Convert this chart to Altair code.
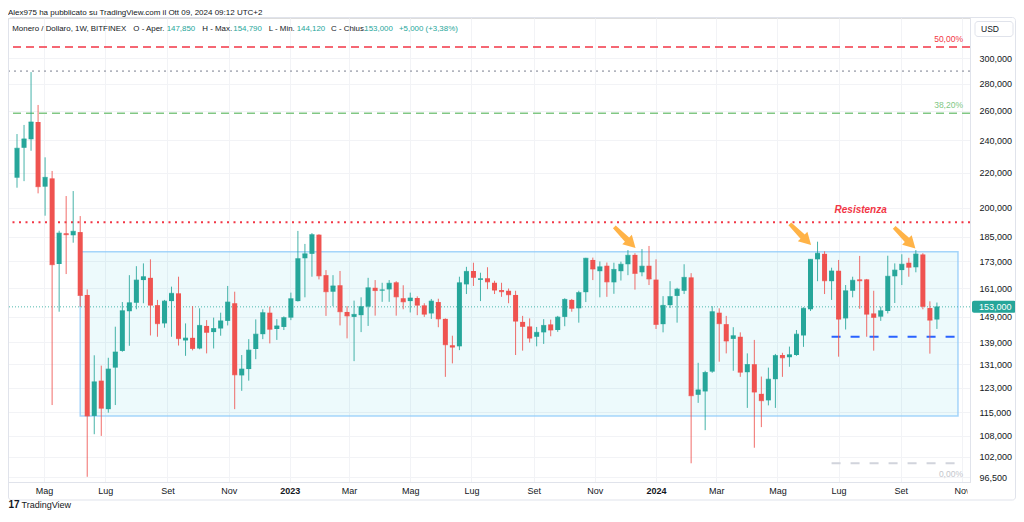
import altair as alt
import pandas as pd

# ---------------- data (XMR/USD weekly, Bitfinex) ----------------
week_start = "2022-04-04"  # Monday of the first fully visible weekly candle

opens = [217.0, 235.3, 240.8, 252.3, 211.8, 216.6, 171.8, 186.7, 185.7, 187.3,
         158.0, 113.9, 125.3, 116.0, 129.8, 135.8, 151.2, 154.7, 164.5, 165.5,
         153.7, 146.3, 155.4, 158.7, 139.7, 140.7, 136.7, 145.3, 142.9, 144.3,
         147.3, 154.5, 127.1, 129.3, 136.5, 142.1, 150.6, 144.1, 144.9, 148.6,
         155.4, 174.5, 176.6, 186.0, 166.7, 159.4, 162.2, 150.9, 148.9, 149.6,
         153.1, 161.1, 159.9, 160.4, 163.5, 156.6, 155.4, 156.7, 153.6, 150.3,
         155.0, 148.1, 137.9, 137.5, 162.6, 168.6, 164.6, 165.3, 163.3, 160.1,
         159.8, 158.0, 146.9, 145.1, 141.1, 142.8, 145.9, 143.7, 148.9, 155.9,
         152.4, 159.2, 173.7, 168.5, 171.0, 163.5, 168.5, 171.7, 176.1, 168.0,
         171.0, 164.7, 146.0, 153.7, 157.6, 159.8, 165.7, 120.6, 121.7, 128.4,
         150.6, 146.0, 140.3, 141.1, 128.2, 131.0, 120.9, 118.8, 125.8, 134.3,
         133.5, 134.3, 141.6, 152.0, 174.0, 176.6, 164.0, 168.7, 148.3, 159.8,
         164.8, 164.8, 150.3, 149.0, 151.3, 166.2, 169.0, 172.4, 170.3, 176.3,
         152.5, 147.85]

highs = [244.2, 250.3, 288.8, 264.2, 229.3, 221.0, 188.0, 206.5, 209.3, 195.6,
         160.4, 134.2, 130.5, 133.3, 145.0, 155.0, 166.7, 170.8, 172.1, 174.0,
         155.9, 155.9, 161.6, 166.0, 146.3, 153.3, 152.4, 147.6, 148.6, 150.6,
         161.9, 159.4, 134.3, 140.2, 147.9, 152.0, 153.1, 148.0, 149.1, 159.0,
         187.9, 181.4, 186.8, 186.2, 169.0, 166.7, 168.6, 153.3, 155.6, 157.0,
         165.5, 164.5, 163.3, 164.5, 164.0, 162.2, 159.0, 157.4, 154.5, 156.3,
         156.4, 148.3, 141.5, 166.0, 170.5, 172.4, 167.8, 170.3, 164.2, 163.3,
         160.8, 159.8, 149.3, 148.3, 144.9, 148.0, 147.8, 149.3, 156.6, 156.3,
         159.8, 174.7, 174.8, 173.0, 172.5, 172.4, 172.9, 178.4, 176.9, 178.9,
         180.4, 174.0, 157.5, 164.0, 161.1, 171.7, 167.6, 131.5, 128.7, 153.3,
         152.4, 149.3, 144.8, 142.8, 134.9, 139.9, 126.7, 129.8, 134.7, 135.1,
         137.4, 143.7, 152.8, 174.1, 182.5, 177.8, 170.1, 173.7, 162.3, 166.0,
         175.6, 165.0, 159.8, 153.1, 175.7, 172.1, 176.4, 174.7, 178.4, 176.9,
         155.3, 154.79]

lows = [211.2, 215.0, 233.4, 208.0, 195.8, 117.3, 151.0, 167.2, 182.0, 153.0,
        96.6, 108.4, 107.9, 114.9, 117.3, 135.5, 137.7, 152.0, 154.5, 141.6,
        141.1, 144.6, 141.1, 137.8, 134.0, 136.0, 136.4, 134.9, 136.7, 141.5,
        145.5, 116.0, 121.9, 125.3, 132.8, 140.2, 138.6, 139.9, 143.7, 147.6,
        155.2, 157.0, 166.0, 164.8, 149.3, 153.3, 145.5, 140.5, 132.1, 142.9,
        145.3, 149.4, 155.1, 155.1, 149.4, 152.0, 150.7, 149.6, 148.9, 148.1,
        144.8, 126.6, 131.3, 136.1, 158.4, 161.9, 155.4, 160.5, 158.4, 157.2,
        154.5, 134.3, 135.9, 138.9, 137.5, 138.4, 141.3, 143.0, 145.2, 151.0,
        146.6, 155.0, 164.5, 157.0, 157.2, 158.5, 164.3, 166.7, 160.3, 166.2,
        162.3, 144.1, 142.8, 152.5, 146.6, 158.4, 100.2, 118.0, 109.6, 128.0,
        131.9, 134.9, 128.7, 126.6, 116.4, 104.5, 110.5, 117.2, 116.4, 126.6,
        130.1, 134.0, 137.3, 151.3, 164.0, 158.4, 155.9, 133.7, 143.9, 157.0,
        152.2, 141.1, 135.9, 147.3, 150.3, 154.6, 162.3, 166.0, 168.0, 152.0,
        134.8, 144.12]

closes = [235.0, 241.0, 252.3, 211.8, 217.2, 171.5, 186.8, 186.0, 187.7, 157.8,
          113.9, 124.9, 116.3, 129.3, 135.4, 151.4, 154.7, 164.5, 166.0, 153.7,
          146.2, 155.4, 158.7, 140.4, 140.6, 136.7, 145.5, 142.8, 144.3, 147.3,
          155.0, 127.3, 129.3, 136.1, 142.1, 150.6, 144.0, 145.3, 148.6, 156.4,
          174.3, 176.6, 186.0, 166.4, 159.4, 161.9, 151.0, 149.3, 149.9, 153.1,
          161.1, 159.9, 160.2, 163.1, 157.2, 155.1, 156.7, 153.7, 150.0, 155.4,
          148.1, 138.1, 137.2, 163.3, 168.4, 165.7, 165.1, 163.7, 160.1, 159.4,
          158.1, 147.2, 145.1, 140.6, 142.8, 145.5, 143.7, 148.8, 156.1, 152.4,
          159.0, 174.5, 169.5, 170.5, 163.7, 169.3, 171.7, 175.9, 167.5, 170.8,
          165.0, 145.9, 153.6, 157.3, 160.5, 165.7, 120.3, 122.2, 128.1, 151.0,
          146.2, 139.5, 141.5, 128.2, 130.9, 121.5, 118.7, 125.8, 134.1, 133.3,
          134.4, 142.1, 152.4, 174.0, 176.9, 164.2, 168.6, 148.0, 159.8, 164.4,
          164.2, 150.0, 148.7, 151.4, 166.2, 169.0, 171.7, 170.3, 176.5, 153.2,
          147.6, 153.0]

# levels drawn on the chart
level_50 = 309.1        # fib 50%
level_top = 289.5       # grey dotted
level_382 = 258.3       # fib 38.2%
resistance = 192.3      # "Resistenza"
support = 141.1         # blue dashed
level_0 = 100.2         # fib 0%
last_price = 153.0

zone_dates = ["2022-06-06", "2024-10-28"]
zone_prices = [113.9, 177.6]
short_line_dates = ["2024-06-24", "2024-10-28"]

arrow_dates = ["2023-12-01", "2024-05-24", "2024-09-05"]
arrow_prices = [184.6, 186.1, 184.4]

price_ticks = [96.5, 102, 108, 115, 123, 131, 139, 149, 161, 173, 185, 200, 220, 240, 260, 280, 300]
month_ticks = [(2022, 5), (2022, 7), (2022, 9), (2022, 11), (2023, 1), (2023, 3), (2023, 5),
               (2023, 7), (2023, 9), (2023, 11), (2024, 1), (2024, 3), (2024, 5), (2024, 7),
               (2024, 9), (2024, 11)]
month_names = ["Gen", "Feb", "Mar", "Apr", "Mag", "Giu", "Lug", "Ago", "Set", "Ott", "Nov", "Dic"]

# ---------------- styling ----------------
TEAL = "#26a69a"
RED = "#ef5350"
LINE_RED = "#f23645"
GREEN = "#81c784"
GREY_DOT = "#b2b5be"
GREY_DASH = "#d1d4dc"
BLUE = "#2962ff"
ORANGE = "#ffb347"
TXT = "#131722"
GRID = "#f2f3f6"
BORDER = "#e0e3eb"
FONT = "Liberation Sans"

assert len(opens) == len(highs) == len(lows) == len(closes)

dates = pd.date_range(week_start, periods=len(opens), freq="7D").strftime("%Y-%m-%d").tolist()
candles = pd.DataFrame(dict(date=dates, open=opens, high=highs, low=lows, close=closes))
candles["dir"] = ["up" if c >= o else "down" for o, c in zip(opens, closes)]


def utc(y, m, d):
    return alt.DateTime(year=y, month=m, date=d, utc=True)


X_SCALE = alt.Scale(type="utc", domain=[utc(2022, 3, 31), utc(2024, 11, 4)], nice=False)
Y_SCALE = alt.Scale(type="log", domain=[95.25, 334.3], nice=False)

label_expr = ("utcmonth(datum.value) == 0 ? '' + utcyear(datum.value) : "
              + str(month_names) + "[utcmonth(datum.value)]")
X_AXIS = alt.Axis(values=[utc(y, m, 1) for y, m in month_ticks], labelExpr=label_expr,
                  title=None, grid=True, gridColor=GRID, ticks=False, tickSize=0,
                  domain=True, domainColor=BORDER, labelPadding=4, labelFontSize=9,
                  labelColor=TXT, labelFlush=False, labelOverlap=False, labelFont=FONT,
                  labelFontWeight={"condition": {"test": "utcmonth(datum.value) == 0",
                                                 "value": "bold"}, "value": "normal"})
Y_AXIS = alt.Axis(orient="right", values=price_ticks,
                  labelExpr="replace(format(datum.value, '.3f'), '.', ',')",
                  title=None, grid=True, gridColor=GRID, ticks=False, tickSize=0,
                  domain=True, domainColor=BORDER, labelPadding=9, labelFontSize=9,
                  labelColor=TXT, labelAlign="left", labelFlush=False, labelOverlap=False,
                  labelFont=FONT)


def X(f):
    return alt.X(f, type="temporal", scale=X_SCALE, axis=X_AXIS)


def Y(f):
    return alt.Y(f, type="quantitative", scale=Y_SCALE, axis=Y_AXIS)


def YD(v):
    return alt.YDatum(v, type="quantitative", scale=Y_SCALE, axis=Y_AXIS)


COLOR = alt.Color("dir:N", scale=alt.Scale(domain=["up", "down"], range=[TEAL, RED]), legend=None)
one = pd.DataFrame({"k": [0]})

layers = []

# range zone
zone = pd.DataFrame({"x": [zone_dates[0]], "x2": [zone_dates[1]],
                     "y": [zone_prices[0]], "y2": [zone_prices[1]]})
layers.append(alt.Chart(zone).mark_rect(fill="#00bcd4", fillOpacity=0.07, stroke="#90caf9",
                                        strokeOpacity=0.8, strokeWidth=1.5)
              .encode(x=X("x"), x2="x2", y=Y("y"), y2="y2"))

# full width levels
for price, col, dash, w in [(level_50, LINE_RED, [8, 5], 1.6),
                            (level_top, GREY_DOT, [2, 4], 1.6),
                            (level_382, GREEN, [8, 5], 1.6),
                            (resistance, LINE_RED, [2, 4.5], 2)]:
    layers.append(alt.Chart(one).mark_rule(color=col, strokeDash=dash, strokeWidth=w)
                  .encode(y=YD(price)))

# last price dotted line
layers.append(alt.Chart(one).mark_rule(color=TEAL, strokeDash=[1, 2], strokeWidth=1, opacity=0.8)
              .encode(y=YD(last_price)))

# short lines (support and fib 0%)
short = pd.DataFrame({"x": [short_line_dates[0]] * 2, "x2": [short_line_dates[1]] * 2,
                      "y": [support, level_0], "kind": ["support", "zero"]})
layers.append(alt.Chart(short[short.kind == "support"]).mark_rule(color=BLUE, strokeDash=[9, 10], strokeWidth=2)
              .encode(x=X("x"), x2="x2", y=Y("y")))
layers.append(alt.Chart(short[short.kind == "zero"]).mark_rule(color=GREY_DASH, strokeDash=[9, 10], strokeWidth=2)
              .encode(x=X("x"), x2="x2", y=Y("y")))

# candles
base = alt.Chart(candles)
layers.append(base.mark_rule(strokeWidth=1, opacity=0.85)
              .encode(x=X("date"), y=Y("low"), y2="high", color=COLOR))
layers.append(base.mark_bar(size=5)
              .encode(x=X("date"), y=Y("open"), y2="close", color=COLOR))
layers.append(base.mark_tick(orient="horizontal", size=5, thickness=1)
              .encode(x=X("date"), y=Y("close"), color=COLOR))

# arrows
ARROW = "M -0.13 -1 L 0.13 -1 L 0.2 0.2 L 0.45 0.2 L 0 1 L -0.45 0.2 L -0.2 0.2 Z"
arrows = pd.DataFrame({"date": arrow_dates, "price": arrow_prices})
layers.append(alt.Chart(arrows).mark_point(shape=ARROW, size=900, angle=315, filled=True,
                                           color=ORANGE, opacity=1, strokeWidth=0)
              .encode(x=X("date"), y=Y("price")))

# Resistenza label
res_lab = pd.DataFrame({"date": ["2024-07-23"], "price": [198.8]})
layers.append(alt.Chart(res_lab).mark_text(text="Resistenza", font=FONT, fontSize=10,
                                           fontWeight="bold", fontStyle="italic", color=LINE_RED)
              .encode(x=X("date"), y=Y("price")))

# fib labels
for txt, price, col, base_line, dy in [("50,00%", level_50, LINE_RED, "bottom", -3),
                                       ("38,20%", level_382, GREEN, "bottom", -3),
                                       ("0,00%", level_0, "#c4c6cc", "top", 7)]:
    d = pd.DataFrame({"date": ["2024-11-02"], "price": [price]})
    layers.append(alt.Chart(d).mark_text(text=txt, font=FONT, fontSize=8.5, align="right",
                                         baseline=base_line, dy=dy, color=col)
                  .encode(x=X("date"), y=Y("price")))

# last-price tag on the price scale
layers.append(alt.Chart(one).mark_rect(color=TEAL, yOffset=-6, y2Offset=6, cornerRadius=2)
              .encode(x=alt.value(964), x2=alt.value(1008), y=YD(last_price), y2=alt.datum(last_price)))
layers.append(alt.Chart(one).mark_text(text="153,000", font=FONT, fontSize=9, color="white",
                                       align="left", baseline="middle")
              .encode(x=alt.value(971), y=YD(last_price)))

# cover overflow of last month label into the price-scale column
layers.append(alt.Chart(one).mark_rect(color="white")
              .encode(x=alt.value(959.5), x2=alt.value(1006.5), y=alt.value(465), y2=alt.value(481.5)))

# frame
layers.append(alt.Chart(one).mark_rect(fillOpacity=0, stroke=BORDER, strokeWidth=1, cornerRadius=3)
              .encode(x=alt.value(0.5), x2=alt.value(1007.5), y=alt.value(-0.5), y2=alt.value(482)))

# USD box
layers.append(alt.Chart(one).mark_rect(fill="white", stroke=BORDER, strokeWidth=1, cornerRadius=3)
              .encode(x=alt.value(967), x2=alt.value(1005), y=alt.value(3.5), y2=alt.value(18.5)))
layers.append(alt.Chart(one).mark_text(text="USD", font=FONT, fontSize=8.5, color=TXT,
                                       align="left", baseline="middle")
              .encode(x=alt.value(973), y=alt.value(11)))

# header line
layers.append(alt.Chart(one).mark_text(
    text="Alex975 ha pubblicato su TradingView.com il Ott 09, 2024 09:12 UTC+2",
    font=FONT, fontSize=8, color=TXT, align="left", baseline="top")
    .encode(x=alt.value(0), y=alt.value(-9.5)))

# legend (OHLC) line
legend_parts = [("Monero / Dollaro, 1W, BITFINEX", 4.3, TXT), ("O - Aper.", 125.3, TXT),
                ("147,850", 158.7, TEAL), ("H - Max.", 194.3, TXT), ("154,790", 225.3, TEAL),
                ("L - Min.", 260.7, TXT), ("144,120", 288.7, TEAL), ("C - Chius.", 323, TXT),
                ("153,000", 356.3, TEAL), ("+5,000 (+3,38%)", 391, TEAL)]
for txt, px, col in legend_parts:
    layers.append(alt.Chart(one).mark_text(text=txt, font=FONT, fontSize=7.9, color=col,
                                           align="left", baseline="middle")
                  .encode(x=alt.value(px), y=alt.value(10.5)))

# footer
layers.append(alt.Chart(one).mark_text(text="17", font=FONT, fontSize=10, fontWeight="bold",
                                       color=TXT, align="left", baseline="middle")
              .encode(x=alt.value(0.5), y=alt.value(487)))
layers.append(alt.Chart(one).mark_text(text="TradingView", font=FONT, fontSize=9, color=TXT,
                                       align="left", baseline="middle")
              .encode(x=alt.value(13.5), y=alt.value(487)))

chart = (alt.layer(*layers)
         .properties(width=962, height=464,
                     autosize=alt.AutoSizeParams(type="none"),
                     padding={"left": 0, "top": 10, "right": 46, "bottom": 28},
                     background="white")
         .configure_view(strokeWidth=0)
         .configure(font=FONT))

chart.save("out.html", embed_options={"renderer": "svg", "actions": False})
